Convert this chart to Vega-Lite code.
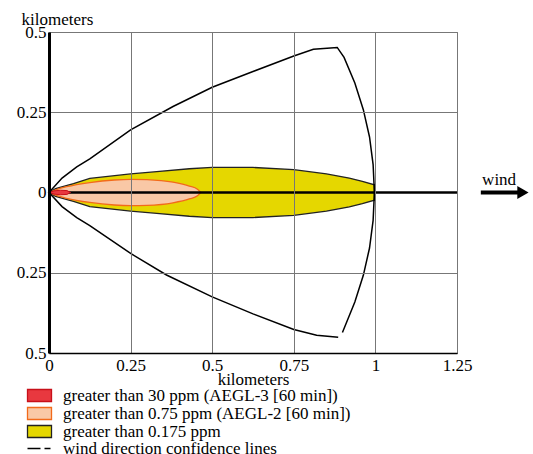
{
  "$schema": "https://vega.github.io/schema/vega-lite/v6.json",
  "autosize": {"type": "none"},
  "padding": {"left": 49, "top": 32, "right": 76, "bottom": 101},
  "width": 408,
  "height": 321,
  "background": "white",
  "config": {
    "view": {"stroke": "#777777", "strokeWidth": 1},
    "font": "Liberation Serif, serif",
    "axis": {"labelFont": "Liberation Serif, serif", "titleFont": "Liberation Serif, serif"},
    "legend": {"labelFont": "Liberation Serif, serif"},
    "text": {"font": "Liberation Serif, serif"}
  },
  "datasets": {
    "yellow": [
      {"zone": "greater than 0.175 ppm", "x": 0, "hi": 0, "lo": 0},
      {"zone": "greater than 0.175 ppm", "x": 0.02, "hi": 0.012, "lo": -0.012},
      {"zone": "greater than 0.175 ppm", "x": 0.075, "hi": 0.028, "lo": -0.028},
      {"zone": "greater than 0.175 ppm", "x": 0.125, "hi": 0.044, "lo": -0.044},
      {"zone": "greater than 0.175 ppm", "x": 0.25, "hi": 0.058, "lo": -0.058},
      {"zone": "greater than 0.175 ppm", "x": 0.33, "hi": 0.065, "lo": -0.065},
      {"zone": "greater than 0.175 ppm", "x": 0.43, "hi": 0.074, "lo": -0.074},
      {"zone": "greater than 0.175 ppm", "x": 0.5, "hi": 0.078, "lo": -0.078},
      {"zone": "greater than 0.175 ppm", "x": 0.625, "hi": 0.078, "lo": -0.078},
      {"zone": "greater than 0.175 ppm", "x": 0.75, "hi": 0.071, "lo": -0.071},
      {"zone": "greater than 0.175 ppm", "x": 0.85, "hi": 0.058, "lo": -0.058},
      {"zone": "greater than 0.175 ppm", "x": 0.92, "hi": 0.045, "lo": -0.045},
      {"zone": "greater than 0.175 ppm", "x": 0.96, "hi": 0.035, "lo": -0.035},
      {"zone": "greater than 0.175 ppm", "x": 0.997, "hi": 0.024, "lo": -0.024}
    ],
    "orange": [
      {"zone": "greater than 0.75 ppm (AEGL-2 [60 min])", "x": 0, "hi": 0, "lo": 0},
      {"zone": "greater than 0.75 ppm (AEGL-2 [60 min])", "x": 0.025, "hi": 0.01, "lo": -0.01},
      {"zone": "greater than 0.75 ppm (AEGL-2 [60 min])", "x": 0.054, "hi": 0.018, "lo": -0.018},
      {"zone": "greater than 0.75 ppm (AEGL-2 [60 min])", "x": 0.125, "hi": 0.031, "lo": -0.031},
      {"zone": "greater than 0.75 ppm (AEGL-2 [60 min])", "x": 0.2, "hi": 0.039, "lo": -0.039},
      {"zone": "greater than 0.75 ppm (AEGL-2 [60 min])", "x": 0.25, "hi": 0.041, "lo": -0.041},
      {"zone": "greater than 0.75 ppm (AEGL-2 [60 min])", "x": 0.3, "hi": 0.04, "lo": -0.04},
      {"zone": "greater than 0.75 ppm (AEGL-2 [60 min])", "x": 0.38, "hi": 0.032, "lo": -0.032},
      {"zone": "greater than 0.75 ppm (AEGL-2 [60 min])", "x": 0.43, "hi": 0.02, "lo": -0.02},
      {"zone": "greater than 0.75 ppm (AEGL-2 [60 min])", "x": 0.455, "hi": 0.01, "lo": -0.01},
      {"zone": "greater than 0.75 ppm (AEGL-2 [60 min])", "x": 0.465, "hi": 0, "lo": 0}
    ],
    "red": [
      {"zone": "greater than 30 ppm (AEGL-3 [60 min])", "x": 0, "hi": 0, "lo": 0},
      {"zone": "greater than 30 ppm (AEGL-3 [60 min])", "x": 0.015, "hi": 0.005, "lo": -0.005},
      {"zone": "greater than 30 ppm (AEGL-3 [60 min])", "x": 0.035, "hi": 0.007, "lo": -0.007},
      {"zone": "greater than 30 ppm (AEGL-3 [60 min])", "x": 0.055, "hi": 0.006, "lo": -0.006},
      {"zone": "greater than 30 ppm (AEGL-3 [60 min])", "x": 0.066, "hi": 0, "lo": 0}
    ],
    "conf": [
      {"seg": "a", "o": 1, "x": 0, "y": 0},
      {"seg": "a", "o": 2, "x": 0.04, "y": 0.045},
      {"seg": "a", "o": 3, "x": 0.085, "y": 0.08},
      {"seg": "a", "o": 4, "x": 0.125, "y": 0.105},
      {"seg": "a", "o": 5, "x": 0.25, "y": 0.195},
      {"seg": "a", "o": 6, "x": 0.38, "y": 0.268},
      {"seg": "a", "o": 7, "x": 0.5, "y": 0.328},
      {"seg": "a", "o": 8, "x": 0.625, "y": 0.377},
      {"seg": "a", "o": 9, "x": 0.75, "y": 0.425},
      {"seg": "a", "o": 10, "x": 0.81, "y": 0.446},
      {"seg": "a", "o": 11, "x": 0.883, "y": 0.452},
      {"seg": "a", "o": 12, "x": 0.904, "y": 0.421},
      {"seg": "a", "o": 13, "x": 0.937, "y": 0.341},
      {"seg": "a", "o": 14, "x": 0.963, "y": 0.258},
      {"seg": "a", "o": 15, "x": 0.982, "y": 0.173},
      {"seg": "a", "o": 16, "x": 0.993, "y": 0.087},
      {"seg": "a", "o": 17, "x": 0.997, "y": 0},
      {"seg": "a", "o": 18, "x": 0.993, "y": -0.087},
      {"seg": "a", "o": 19, "x": 0.982, "y": -0.173},
      {"seg": "a", "o": 20, "x": 0.963, "y": -0.258},
      {"seg": "a", "o": 21, "x": 0.937, "y": -0.341},
      {"seg": "a", "o": 22, "x": 0.899, "y": -0.436},
      {"seg": "b", "o": 23, "x": 0.886, "y": -0.451},
      {"seg": "b", "o": 24, "x": 0.82, "y": -0.445},
      {"seg": "b", "o": 25, "x": 0.75, "y": -0.427},
      {"seg": "b", "o": 26, "x": 0.625, "y": -0.378},
      {"seg": "b", "o": 27, "x": 0.5, "y": -0.325},
      {"seg": "b", "o": 28, "x": 0.36, "y": -0.257},
      {"seg": "b", "o": 29, "x": 0.25, "y": -0.19},
      {"seg": "b", "o": 30, "x": 0.125, "y": -0.103},
      {"seg": "b", "o": 31, "x": 0.085, "y": -0.078},
      {"seg": "b", "o": 32, "x": 0.04, "y": -0.044},
      {"seg": "b", "o": 33, "x": 0, "y": 0}
    ],
    "center": [{"x0": 0, "x1": 1.25, "y": 0}],
    "shaft": [{"x0": 1.323, "x1": 1.44, "y": 0}],
    "head": [{"x": 1.452, "y": 0}],
    "wind": [{"x": 1.379, "y": 0.024, "label": "wind"}],
    "dashkey": []
  },
  "encoding": {
    "x": {
      "type": "quantitative",
      "scale": {"domain": [0, 1.25], "nice": false, "zero": false},
      "axis": {
        "values": [0, 0.25, 0.5, 0.75, 1, 1.25],
        "labelExpr": "datum.value + ''",
        "title": "kilometers",
        "titleFontSize": 17,
        "titleFontWeight": "normal",
        "titleColor": "black",
        "titleY": 31,
        "titleBaseline": "alphabetic",
        "labelFontSize": 17,
        "labelColor": "black",
        "labelFlush": false,
        "labelPadding": 4,
        "ticks": false,
        "domainColor": "black",
        "domainWidth": 1.5,
        "grid": true,
        "gridColor": "#777777",
        "gridOpacity": 1,
        "zindex": 1
      }
    },
    "y": {
      "type": "quantitative",
      "scale": {"domain": [-0.5, 0.5], "nice": false, "zero": false},
      "axis": {
        "values": [-0.5, -0.25, 0, 0.25, 0.5],
        "labelExpr": "abs(datum.value) + ''",
        "title": "kilometers",
        "titleAngle": 0,
        "titleAlign": "left",
        "titleBaseline": "alphabetic",
        "titleX": -28,
        "titleY": -8,
        "titleFontSize": 17,
        "titleFontWeight": "normal",
        "titleColor": "black",
        "labelFontSize": 17,
        "labelColor": "black",
        "labelFlush": false,
        "labelPadding": 3,
        "ticks": false,
        "domainColor": "black",
        "domainWidth": 3,
        "grid": true,
        "gridColor": {"condition": {"test": "datum.value === 0", "value": "transparent"}, "value": "#777777"},
        "gridOpacity": 1,
        "zindex": 1
      }
    }
  },
  "layer": [
    {
      "data": {"name": "yellow"},
      "mark": {"type": "area", "strokeWidth": 1.3, "fillOpacity": 1},
      "encoding": {
        "x": {"field": "x", "type": "quantitative"},
        "y": {"field": "hi", "type": "quantitative"},
        "y2": {"field": "lo"},
        "fill": {
          "field": "zone",
          "type": "nominal",
          "scale": {
            "domain": ["greater than 30 ppm (AEGL-3 [60 min])", "greater than 0.75 ppm (AEGL-2 [60 min])", "greater than 0.175 ppm"],
            "range": ["#e8383f", "#f9c8a6", "#e5d700"]
          },
          "legend": {
            "orient": "none",
            "legendX": -18,
            "legendY": 355,
            "title": null,
            "padding": 0,
            "rowPadding": -4,
            "labelFontSize": 17,
            "labelColor": "black",
            "labelOffset": 15,
            "labelLimit": 500,
            "symbolSize": 144,
            "symbolType": "M-2,-1H2V1H-2Z",
            "symbolStrokeWidth": 1.3
          }
        },
        "stroke": {
          "field": "zone",
          "type": "nominal",
          "scale": {
            "domain": ["greater than 30 ppm (AEGL-3 [60 min])", "greater than 0.75 ppm (AEGL-2 [60 min])", "greater than 0.175 ppm"],
            "range": ["#c8101a", "#f26a1b", "#222222"]
          },
          "legend": {
            "orient": "none",
            "legendX": -18,
            "legendY": 355,
            "title": null,
            "padding": 0,
            "rowPadding": -4,
            "labelFontSize": 17,
            "labelColor": "black",
            "labelOffset": 15,
            "labelLimit": 500,
            "symbolSize": 144,
            "symbolType": "M-2,-1H2V1H-2Z",
            "symbolStrokeWidth": 1.3
          }
        }
      }
    },
    {
      "data": {"name": "orange"},
      "mark": {"type": "area", "strokeWidth": 1.3, "fillOpacity": 1, "interpolate": "monotone"},
      "encoding": {
        "x": {"field": "x", "type": "quantitative"},
        "y": {"field": "hi", "type": "quantitative"},
        "y2": {"field": "lo"},
        "fill": {"field": "zone", "type": "nominal"},
        "stroke": {"field": "zone", "type": "nominal"}
      }
    },
    {
      "data": {"name": "center"},
      "mark": {"type": "rule", "color": "black", "strokeWidth": 2.5},
      "encoding": {
        "x": {"field": "x0", "type": "quantitative"},
        "x2": {"field": "x1"},
        "y": {"field": "y", "type": "quantitative"}
      }
    },
    {
      "data": {"name": "red"},
      "mark": {"type": "area", "strokeWidth": 1, "fillOpacity": 1},
      "encoding": {
        "x": {"field": "x", "type": "quantitative"},
        "y": {"field": "hi", "type": "quantitative"},
        "y2": {"field": "lo"},
        "fill": {"field": "zone", "type": "nominal"},
        "stroke": {"field": "zone", "type": "nominal"}
      }
    },
    {
      "data": {"name": "conf"},
      "mark": {"type": "line", "color": "black", "strokeWidth": 1.5},
      "encoding": {
        "x": {"field": "x", "type": "quantitative"},
        "y": {"field": "y", "type": "quantitative"},
        "order": {"field": "o", "type": "quantitative"},
        "detail": {"field": "seg", "type": "nominal"}
      }
    },
    {
      "data": {"name": "dashkey"},
      "mark": {"type": "line", "color": "black", "strokeWidth": 1.5},
      "encoding": {
        "x": {"field": "x", "type": "quantitative"},
        "y": {"field": "y", "type": "quantitative"},
        "strokeDash": {
          "field": "kind",
          "type": "nominal",
          "scale": {"domain": ["wind direction confidence lines"], "range": [[13, 4, 6, 30]]},
          "legend": {
            "orient": "none",
            "legendX": -18,
            "legendY": 408,
            "title": null,
            "padding": 0,
            "labelFontSize": 17,
            "labelColor": "black",
            "labelOffset": 15,
            "labelLimit": 500,
            "symbolSize": 144,
            "symbolType": "M-2,0H2",
            "symbolStrokeColor": "black",
            "symbolStrokeWidth": 1.5
          }
        }
      }
    },
    {
      "data": {"name": "shaft"},
      "mark": {"type": "rule", "color": "black", "strokeWidth": 4, "strokeCap": "butt"},
      "encoding": {
        "x": {"field": "x0", "type": "quantitative"},
        "x2": {"field": "x1"},
        "y": {"field": "y", "type": "quantitative"}
      }
    },
    {
      "data": {"name": "head"},
      "mark": {"type": "point", "shape": "triangle-right", "filled": true, "color": "black", "size": 170, "opacity": 1},
      "encoding": {
        "x": {"field": "x", "type": "quantitative"},
        "y": {"field": "y", "type": "quantitative"}
      }
    },
    {
      "data": {"name": "wind"},
      "mark": {"type": "text", "fontSize": 17, "color": "black", "baseline": "alphabetic", "align": "center"},
      "encoding": {
        "x": {"field": "x", "type": "quantitative"},
        "y": {"field": "y", "type": "quantitative"},
        "text": {"field": "label"}
      }
    }
  ]
}
